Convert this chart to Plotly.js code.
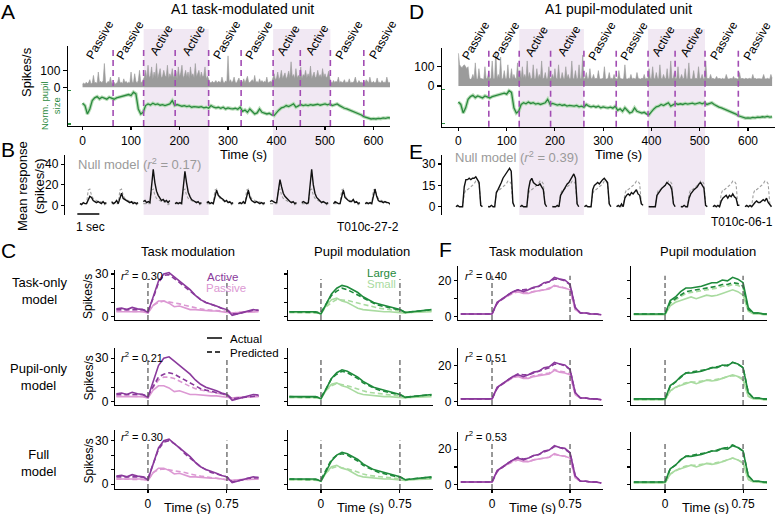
<!DOCTYPE html>
<html><head><meta charset="utf-8">
<script src="https://cdn.plot.ly/plotly-3.0.1.min.js"></script>
<style>html,body{margin:0;padding:0;background:#fff}#chart{width:780px;height:514px}</style>
</head><body><div id="chart"></div>
<script>
// ================= DATA =================
// Panels A / D : session time course (2.5 s spike bins, 5 s pupil bins)
const spikeBin = 2.5;
const spikesA = [
20,25,18,30,22,28,45,20,26,70, 24,30,22,90,28,35,25,40,140,30,
22,35,28,60,25,20,30,18,26,32, 60,25,30,22,50,28,35,24,30,26,
90,30,28,80,35,26,40,100,30,28, 45,60,100,50,130,55,70,120,48,90,
60,140,50,75,110,55,65,100,70,60, 130,50,80,60,110,55,70,95,50,120,
60,85,130,55,70,100,60,90,50,120, 65,80,55,140,60,75,100,55,90,60,
70,120,50,65,40,30,25,35,28,30, 40,25,35,30,28,60,32,25,38,30,
185,30,45,28,35,60,30,25,40,55, 28,35,30,50,25,40,65,30,28,35,
45,30,70,28,35,25,50,30,40,28, 35,30,60,25,28,35,30,50,80,45,
55,90,45,60,100,50,70,85,48,65, 95,55,150,60,75,50,110,55,70,60,
120,50,75,65,100,55,80,60,125,50, 70,90,55,65,100,60,75,55,110,60,
80,55,65,95,50,30,25,40,28,35, 30,60,25,35,28,30,45,25,32,28,
50,25,30,28,35,60,30,25,40,28, 30,25,35,28,45,30,25,60,30,28,
35,25,30,55,28,30,25,40,28,30, 28,60,30,25,35,28,40,25,30,28, 30];
const spikesD = [
170,110,100,95,105,110,100,90,100,40, 35,40,60,38,120,40,35,90,40,38,
40,35,100,38,40,70,36,40,130,38, 40,180,38,60,40,150,35,40,80,38,
40,110,38,40,90,35,60,40,38,120, 40,80,38,100,40,60,38,130,40,70,
38,40,110,36,40,90,38,60,40,130, 38,40,70,36,40,100,38,40,60,38,
90,40,38,110,40,36,70,40,38,100, 40,60,38,40,130,36,40,80,38,40,
110,38,40,160,36,40,70,38,40,90, 38,40,60,36,40,38,80,40,36,38,
40,100,38,36,40,70,38,40,36,60, 40,38,36,80,40,38,36,40,110,38,
36,40,38,60,36,40,38,36,70,40, 38,36,40,38,60,36,40,38,90,40,
38,100,40,36,70,40,38,110,40,36, 60,40,38,90,36,40,130,38,40,70,
38,40,100,36,40,60,38,40,90,36, 40,120,38,36,40,80,38,40,36,100,
40,38,60,36,40,130,38,40,36,60, 38,40,36,38,50,36,40,38,36,40,
36,38,60,40,36,38,40,36,50,38, 40,36,38,70,36,40,38,36,40,38,
36,40,38,36,60,38,40,36,38,40, 38,36,40,60,38,36,40,38,36,60, 40];
const pupilBin = 5;
const pupil = [
0.62,0.55,0.30,0.45,0.70,0.78,0.82,0.75,0.80,0.78,
0.74,0.80,0.76,0.74,0.78,0.80,0.82,0.84,0.86,0.88,
0.85,0.95,0.90,0.45,0.30,0.35,0.55,0.60,0.57,0.62,
0.58,0.60,0.56,0.58,0.55,0.57,0.60,0.70,0.55,0.58,
0.55,0.53,0.55,0.52,0.54,0.50,0.52,0.50,0.50,0.52,
0.48,0.50,0.47,0.55,0.50,0.48,0.50,0.47,0.50,0.45,
0.48,0.46,0.45,0.47,0.44,0.50,0.38,0.42,0.35,0.45,
0.38,0.30,0.33,0.45,0.35,0.33,0.30,0.32,0.27,0.25,
0.35,0.42,0.48,0.50,0.55,0.52,0.56,0.60,0.50,0.55,
0.58,0.55,0.57,0.55,0.58,0.56,0.57,0.59,0.56,0.58,
0.60,0.57,0.60,0.55,0.58,0.60,0.55,0.50,0.47,0.45,
0.42,0.40,0.37,0.35,0.30,0.27,0.22,0.20,0.17,0.15,
0.16,0.15,0.17,0.16,0.18,0.17,0.19,0.18,0.20,0.18,0.19];
const blockBounds = [0,63,126,191,260,327,393,449,511,580,650];
const blockLabels = ['Passive','Passive','Active','Active','Passive','Passive','Active','Active','Passive','Passive'];
const timeTicks = [0,100,200,300,400,500,600];

// Panels B / E : mean response per block
const tMini = [-0.3,-0.225,-0.15,-0.075,0,0.075,0.15,0.225,0.3,0.375,0.45,0.525,0.6,0.675,0.75,0.825,0.9];
const nullB = [2,2,2,2,2,15,16,10,7,6,5,4,4,3.5,3,1,2];
const respB1 = [2,1,3,2,2,5,9,8,5,4,3,4,3,2,4,2,3];
const respB2 = [4,2,3,5,2,8,12,7,6,5,4,3,4,2,3,2,3];
const respB3 = [4,5,3,4,3,22,35,22,14,10,7,5,6,4,5,3,5];
const respB4 = [2,3,2,3,2,20,33,22,13,9,6,5,4,3,4,2,3];
const respB5 = [3,4,2,3,2,10,15,10,8,7,6,4,5,3,4,2,3];
const respB6 = [2,3,2,4,2,10,15,8,5,4,3,4,3,2,3,2,3];
const respB7 = [4,5,4,3,3,16,25,18,12,9,7,5,4,3,4,2,3];
const respB8 = [3,4,3,2,3,22,35,20,12,8,6,4,3,4,3,2,3];
const respB9 = [2,4,3,2,2,10,15,8,6,5,4,4,6,3,4,2,3];
const respB10 = [2,3,2,3,2,10,16,9,5,4,4,3,4,3,3,2,3];
const nullE = [0.5,0,0.5,0,0.5,9,12,12,13,14,15,16,18,18,16,2,0.5];
const respE1 = [0,1,0,0,0,14,19,19,20,19,20,20,21,19,17,1,0];
const respE2 = [0,0,1,0,0,10,12,14,17,20,22,24,26,27,25,3,0];
const respE3 = [0,1,0,0,0,12,18,20,17,16,15,15,16,14,12,2,0];
const respE4 = [0,0,0,1,0,8,10,13,14,16,17,19,22,23,20,2,0];
const respE5 = [0,1,0,0,0,12,15,16,17,16,18,19,20,18,17,2,0];
const respE6 = [0,1,0,2,0,6,8,9,8,10,9,11,12,9,8,2,1];
const respE7 = [0,0,0,0,0,8,10,12,13,14,15,17,16,15,12,2,0];
const respE8 = [0,0,1,0,0,6,9,11,12,13,14,16,17,15,13,1,0];
const respE9 = [0,1,0,1,0,4,6,7,8,6,8,7,9,7,6,1,1];
const respE10 = [0,1,0,1,0,2,3,4,3,3,4,5,4,6,3,1,0];

// Panels C / F : PSTHs (actual and model-predicted)
const tC = [-0.3,-0.25,-0.2,-0.15,-0.1,-0.05,0,0.05,0.1,0.15,0.2,0.25,0.3,0.35,0.4,0.45,0.5,0.55,0.6,0.65,0.7,0.75,0.8,0.85,0.9,0.95,1.0,1.05];
const cActive  = [5.5,6,5,6.5,5.5,5,3,14,25,30,31,28,25,22,19,15,12,10,9,7.5,6,5,1,2,3,4,5,4.5];
const cPassive = [3.5,3.5,3.5,3.5,4,3.5,2.5,8,11,11,9.5,7,7.5,6,5,5,4.5,4,4,4,3.5,3.5,2.5,3,3,3.5,3.5,3.5];
const cActiveTaskOnly  = [5,5,5,5,5,5,4,13,24,29,29.5,27,24,21,18,15,12,10,8.5,7,6,5,2,2,3,4,4.5,4.5];
const cPassiveTaskOnly = [4,4,4,4,4,4,3.5,8,10,11,10.5,10,9,8,7,6,5.5,5,4.5,4.5,4,4,2.5,3,3.5,3.5,4,4];
const cActivePupilOnly  = [5,5,5,5,5,5,4,11,17,19,20,19,17,15,13,11,9,8,7,6,5.5,5,2,2.5,3,3.5,4,4];
const cPassivePupilOnly = [4,4,4,4,4,4,3.5,10,15,17,17,16,14,12,10.5,9,8,7,6.5,6,5,4.5,2,2.5,3,3.5,4,4];
const cActiveFull  = [5,5,5,5,5,5,4,14,24,29,30,28,25,21,18,15,12,10,8,7,6,5,1.5,2,3,4,4.5,4.5];
const cPassiveFull = [3.5,3.5,3.5,3.5,3.5,3.5,3,8,10,10.5,10,9.5,9,8,7,6,5.5,5,4.5,4,4,3.5,2.5,3,3,3.5,3.5,3.5];
const cLarge = [3.5,3.5,4,3.5,4,3.5,2,9,16,20,22,21,19,17,14,12,10,9,8,7,6,5,3,3.5,4,4.5,5,5];
const cSmall = [3,3,3,3,3,3,2,8,12,13,11,10,8,6,5,4.5,4,4,3.5,3.5,3,3,2.5,3,3,3.5,3.5,3.5];
const cLargeTaskOnly  = [3.5,3.5,3.5,3.5,3.5,3.5,3,9,15,18,20,19,17,15,13,11,9.5,8,7,6,5.5,5,3,3.5,4,4.5,4.5,4.5];
const cSmallTaskOnly  = [3,3,3,3,3,3,2.5,7,10,12,12,11.5,10.5,9.5,8.5,7.5,7,6,5.5,5,4.5,4,3,3,3.5,3.5,4,4];
const cLargePupilOnly = [3.5,3.5,3.5,3.5,3.5,3.5,3,9,16,19,21,20,18,16,13,11,9.5,8,7,6,5.5,5,3,3.5,4,4.5,4.5,4.5];
const cSmallPupilOnly = [3,3,3,3,3,3,2.5,8,11,12.5,12,11,10,8.5,7.5,6.5,6,5.5,5,4.5,4,4,3,3,3.5,3.5,4,4];
const cLargeFull = [3.5,3.5,3.5,3.5,3.5,3.5,3,10,17,20,21,20,18,16,13,11,9.5,8,7,6,5.5,5,3,3.5,4,4.5,4.5,4.5];
const cSmallFull = [3,3,3,3,3,3,2.5,8,11,12,11.5,10.5,9.5,8,7,6,5.5,5,4.5,4.5,4,4,3,3,3.5,3.5,4,4];
const fActive  = [1.5,1.5,1.5,1.5,1.5,1.5,1.5,8,10,12,14,15,14,15,16.5,17,19,19.5,22,21,20.5,18,5,2,2,1.5,1.5,1];
const fPassive = [1.5,1.5,1.5,1.5,1.5,1.5,1.5,8,10,11.5,13.5,14,13,13,14,14.5,15,15.5,17.5,16.5,16,15,4,2,2,1.5,1.5,1];
const fActiveTaskOnly  = [1.5,1.5,1.5,1.5,1.5,1.5,1.5,7.5,10,12,14,15,15,15.5,16,17,18.5,19.5,21,21,20,18,5,2,2,1.5,1.5,1];
const fPassiveTaskOnly = [1.5,1.5,1.5,1.5,1.5,1.5,1.5,7.5,10,11.5,13,14,13.5,13.5,14,14.5,15,16,17,17,16,15,4,2,2,1.5,1.5,1];
const fActivePupilOnly  = [1.5,1.5,1.5,1.5,1.5,1.5,1.5,7.5,10,12,14,15.5,15,15,16,17,18,19,21,21,20,18,5,2,2,1.5,1.5,1];
const fPassivePupilOnly = [1.5,1.5,1.5,1.5,1.5,1.5,1.5,7.5,10,11.5,13.5,14.5,13.5,13.5,14.5,15,15.5,16,18,17,16.5,15.5,4,2,2,1.5,1.5,1];
const fActiveFull  = [1.5,1.5,1.5,1.5,1.5,1.5,1.5,7.5,10,12,14,15.5,14.5,15,16.5,17,18.5,19.5,21.5,21,20,18,5,2,2,1.5,1.5,1];
const fPassiveFull = [1.5,1.5,1.5,1.5,1.5,1.5,1.5,7.5,10,11.5,13,14,13.5,13,14,14.5,15,15.5,17,16.5,16,15,4,2,2,1.5,1.5,1];
const fLarge = [1.5,1.5,1.5,1.5,1.5,1.5,1.5,9,11,14,16,16,16.5,17,18,19,19,20.5,20,22,21,19,5,2,2,1.5,1.5,1];
const fSmall = [1,1,1,1,1,1,1,6,8,9,10,11,10,11,12,11.5,12,13,14,15,14,12,3,1.5,1.5,1,1,1];
const fLargeTaskOnly  = [1.5,1.5,1.5,1.5,1.5,1.5,1.5,8,10,12,14,14.5,15,15.5,16,16.5,17,18,18,19,18.5,17,4,2,2,1.5,1.5,1];
const fSmallTaskOnly  = [1.5,1.5,1.5,1.5,1.5,1.5,1.5,7.5,9.5,11.5,13,13.5,14,14.5,15,15.5,16,17,17,18,17.5,16,4,2,2,1.5,1.5,1];
const fLargePupilOnly = [1.5,1.5,1.5,1.5,1.5,1.5,1.5,8.5,11,14,16,16.5,17,17.5,18,19,19.5,20,20.5,22,21,19,5,2,2,1.5,1.5,1];
const fSmallPupilOnly = [1,1,1,1,1,1,1,6,8,9.5,10.5,11,11,11.5,12,12,12.5,13,14,14.5,14,13,3,1.5,1.5,1,1,1];
const fLargeFull = [1.5,1.5,1.5,1.5,1.5,1.5,1.5,9,11,14,16,16.5,17,17.5,18,19,19.5,20.5,21,22.5,21,19,5,2,2,1.5,1.5,1];
const fSmallFull = [1,1,1,1,1,1,1,6,8,9.5,10.5,11,11,11.5,12,12,12.5,13,14,15,14,12.5,3,1.5,1.5,1,1,1];
const r2C = ['0.30','0.21','0.30'];
const r2F = ['0.40','0.51','0.53'];
const rowNames = ['Task-only<br>model','Pupil-only<br>model','Full<br>model'];

// ================= DRAWING =================
const W = 780, H = 514;
const fx = p => p / W;
const fy = p => 1 - p / H;
const ydom = (top, bot) => [fy(bot), fy(top)];
const FONT = 'Liberation Sans, Arial, sans-serif';
const green = '#2b8a3e', purpleDash = '#a24db3', shade = '#f1e8f3';
const cPurple = '#8a3a9c', cPink = '#dc98d3', cGreen = '#1f8a3c', cLight = '#a9dba0';

const axBase = {showline:true, linecolor:'#000', linewidth:1.2, ticks:'outside', ticklen:4,
  tickwidth:1.1, tickcolor:'#000', showgrid:false, zeroline:false, fixedrange:true,
  tickfont:{family:FONT, size:12, color:'#000'}};

const traces = [], shapes = [], annotations = [];
const layout = {width:W, height:H, margin:{l:0,r:0,t:0,b:0}, paper_bgcolor:'#fff',
  plot_bgcolor:'rgba(0,0,0,0)', showlegend:false, font:{family:FONT, size:12, color:'#000'}};

function ann(text, x, y, o) {
  annotations.push(Object.assign({text, x:fx(x), y:fy(y), xref:'paper', yref:'paper', showarrow:false,
    xanchor:'center', yanchor:'middle', font:{family:FONT, size:12, color:'#000'}}, o || {}));
}

// ---- A and D ----
function activeRuns() {
  const runs = [];
  blockLabels.forEach((l, i) => {
    if (l !== 'Active') return;
    if (runs.length && runs[runs.length - 1][1] === blockBounds[i]) runs[runs.length - 1][1] = blockBounds[i + 1];
    else runs.push([blockBounds[i], blockBounds[i + 1]]);
  });
  return runs;
}
function sessionPanel(xa, ySp, yPu, spikes, xDom, xRange, spDom, spRange, puDom, puRange, lblY) {
  const n = xa === 'x' ? '' : xa.slice(1);
  const ns = ySp.slice(1), np = yPu.slice(1);
  layout['xaxis' + n] = Object.assign({}, axBase, {domain:[fx(xDom[0]), fx(xDom[1])], range:xRange, anchor:yPu, tickvals:timeTicks, ticklen:3});
  layout['yaxis' + ns] = Object.assign({}, axBase, {domain:ydom(spDom[0], spDom[1]), range:spRange, anchor:xa, tickvals:[0,100]});
  layout['yaxis' + np] = Object.assign({}, axBase, {domain:ydom(puDom[0], puDom[1]), range:puRange, anchor:xa,
    tickvals:[0,1], ticktext:['0','max'], ticks:'inside', ticklen:3, tickcolor:green,
    ticklabelposition:'inside', tickfont:{family:FONT, size:9, color:green}});
  activeRuns().forEach(r => shapes.push({type:'rect', xref:xa, yref:'paper', x0:r[0], x1:r[1],
    y0:fy(215), y1:fy(29), fillcolor:shade, line:{width:0}, layer:'below'}));
  blockBounds.slice(1, -1).forEach(b => shapes.push({type:'line', xref:xa, yref:'paper', x0:b, x1:b,
    y0:fy(puDom[1]), y1:fy(spDom[0]), line:{color:purpleDash, width:1.6, dash:'6px,4px'}}));
  blockLabels.forEach((l, i) => annotations.push({text:l, xref:xa, yref:'paper',
    x:(blockBounds[i] + blockBounds[i + 1]) / 2 + 4, y:fy(lblY), textangle:-60, showarrow:false,
    xanchor:'center', yanchor:'middle', font:{family:FONT, size:12, color:'#000'}}));
  traces.push({x:spikes.map((v, i) => i * spikeBin), y:spikes, xaxis:xa, yaxis:ySp, type:'scatter',
    mode:'lines', fill:'tozeroy', fillcolor:'#9b9b9b', line:{color:'#9b9b9b', width:0.6}, hoverinfo:'skip'});
  traces.push({x:pupil.map((v, i) => i * pupilBin), y:pupil, xaxis:xa, yaxis:yPu, type:'scatter',
    mode:'lines', line:{color:'#b8dcb8', width:3.5}, hoverinfo:'skip'});
  traces.push({x:pupil.map((v, i) => i * pupilBin), y:pupil, xaxis:xa, yaxis:yPu, type:'scatter',
    mode:'lines', line:{color:green, width:1.3}, hoverinfo:'skip'});
}
sessionPanel('x', 'y', 'y2', spikesA, [68, 390], [-30, 634], [46, 88], [-4, 243], [88, 126], [-0.06, 1.075], 40);
sessionPanel('x3', 'y3', 'y4', spikesD, [442, 775], [-34, 656], [48, 87], [-5, 197], [87, 126.7], [-0.1, 1.06], 41);

// ---- B and E ----
function blockPanel(xa, ya, xDom, xRange, yRange, ticks, nullR, resps, spacing) {
  const nx = xa.slice(1), ny = ya.slice(1);
  layout['xaxis' + nx] = {domain:[fx(xDom[0]), fx(xDom[1])], range:xRange, visible:false, anchor:ya, fixedrange:true};
  layout['yaxis' + ny] = Object.assign({}, axBase, {domain:ydom(155, 215), range:yRange, anchor:xa, tickvals:ticks, ticklen:3});
  resps.forEach((r, i) => {
    const xs = tMini.map(t => t + i * spacing);
    traces.push({x:xs, y:nullR, xaxis:xa, yaxis:ya, type:'scatter', mode:'lines',
      line:{color:'#a0a0a0', width:1.1, dash:'3px,2px'}, hoverinfo:'skip'});
    traces.push({x:xs, y:r, xaxis:xa, yaxis:ya, type:'scatter', mode:'lines',
      line:{color:'#111', width:1.4}, hoverinfo:'skip'});
  });
}
blockPanel('x5', 'y5', [65, 390], [-0.98, 13.79], [-8.9, 48.7], [0, 20, 40], nullB,
  [respB1,respB2,respB3,respB4,respB5,respB6,respB7,respB8,respB9,respB10], 1.44);
blockPanel('x6', 'y6', [442, 775], [-0.936, 14.2], [-5.8, 36.3], [0, 15, 30], nullE,
  [respE1,respE2,respE3,respE4,respE5,respE6,respE7,respE8,respE9,respE10], 1.46);
shapes.push({type:'line', xref:'x5', yref:'paper', x0:-0.42, x1:0.58, y0:fy(214), y1:fy(214), line:{color:'#000', width:1.5}});

// ---- C and F ----
const rowsC = [{dom:[270, 320], range:[-2.3, 32.8]}, {dom:[348, 405], range:[-2.3, 37.1]}, {dom:[430, 489], range:[-3.4, 37.4]}];
const rowsF = [{dom:[266, 320], range:[-1.9, 28.35]}, {dom:[348, 405], range:[-1.9, 30.0]}, {dom:[432, 489], range:[-2.4, 29.7]}];
const cols = [
  {dom:[115, 260], xr:[-0.313, 1.064], rows:rowsC, act:[cActive, cPassive],
   pred:[[cActiveTaskOnly, cPassiveTaskOnly], [cActivePupilOnly, cPassivePupilOnly], [cActiveFull, cPassiveFull]],
   col:[cPurple, cPink], tv:[0,30], minor:[10,20], labels:true},
  {dom:[288, 433], xr:[-0.313, 1.064], rows:rowsC, act:[cLarge, cSmall],
   pred:[[cLargeTaskOnly, cSmallTaskOnly], [cLargePupilOnly, cSmallPupilOnly], [cLargeFull, cSmallFull]],
   col:[cGreen, cLight], tv:[0,10,20,30], minor:null, labels:false},
  {dom:[458, 603], xr:[-0.327, 1.067], rows:rowsF, act:[fActive, fPassive],
   pred:[[fActiveTaskOnly, fPassiveTaskOnly], [fActivePupilOnly, fPassivePupilOnly], [fActiveFull, fPassiveFull]],
   col:[cPurple, cPink], tv:[0,20], minor:[10], labels:true},
  {dom:[631, 767], xr:[-0.327, 0.98], rows:rowsF, act:[fLarge, fSmall],
   pred:[[fLargeTaskOnly, fSmallTaskOnly], [fLargePupilOnly, fSmallPupilOnly], [fLargeFull, fSmallFull]],
   col:[cGreen, cLight], tv:[0,10,20], minor:null, labels:false}
];
let k = 7;
cols.forEach(c => {
  c.rows.forEach((r, ri) => {
    const xa = 'x' + k, ya = 'y' + k, bottom = ri === 2;
    layout['xaxis' + k] = Object.assign({}, axBase, {domain:[fx(c.dom[0]), fx(c.dom[1])], range:c.xr, anchor:ya,
      tickvals:[0, 0.75], ticktext:['0', '0.75'], showticklabels:bottom, ticks:bottom ? 'outside' : '', ticklen:3});
    const yax = Object.assign({}, axBase, {domain:ydom(r.dom[0], r.dom[1]), range:r.range, anchor:xa,
      tickvals:c.tv, showticklabels:c.labels, ticklen:3});
    if (c.minor) yax.minor = {tickmode:'array', tickvals:c.minor, ticks:'outside', ticklen:3, tickcolor:'#000', tickwidth:1.1};
    layout['yaxis' + k] = yax;
    [0, 0.75].forEach(t => shapes.push({type:'line', xref:xa, yref:ya + ' domain', x0:t, x1:t, y0:0, y1:0.82,
      line:{color:'#555', width:1.2, dash:'5px,3px'}}));
    [1, 0].forEach(j => {
      traces.push({x:tC, y:c.act[j], xaxis:xa, yaxis:ya, type:'scatter', mode:'lines',
        line:{color:c.col[j], width:1.6}, hoverinfo:'skip'});
      traces.push({x:tC, y:c.pred[ri][j], xaxis:xa, yaxis:ya, type:'scatter', mode:'lines',
        line:{color:c.col[j], width:1.6, dash:'5px,3px'}, hoverinfo:'skip'});
    });
    k++;
  });
});

// ---- text ----
ann('A', 8, 11, {font:{family:FONT, size:21}});
ann('B', 8, 149, {font:{family:FONT, size:21}});
ann('C', 8, 250, {font:{family:FONT, size:21}});
ann('D', 416, 11, {font:{family:FONT, size:21}});
ann('E', 416, 151, {font:{family:FONT, size:21}});
ann('F', 445, 249, {font:{family:FONT, size:21}});
ann('A1 task-modulated unit', 242, 9, {font:{family:FONT, size:14}});
ann('A1 pupil-modulated unit', 618, 9, {font:{family:FONT, size:14}});
ann('Spikes/s', 27, 72, {textangle:-90, font:{family:FONT, size:13}});
ann('Norm. pupil<br>size', 51, 106, {textangle:-90, font:{family:FONT, size:9.5, color:green}});
ann('Time (s)', 243, 154, {font:{family:FONT, size:13}});
ann('Time (s)', 618, 154, {font:{family:FONT, size:13}});
ann('Mean response<br>(spikes/s)', 31, 186, {textangle:-90, font:{family:FONT, size:13}});
ann('Null model (<i>r</i><sup>2</sup> = 0.17)', 76, 164, {xanchor:'left', font:{family:FONT, size:13, color:'#9a9a9a'}});
ann('Null model (<i>r</i><sup>2</sup> = 0.39)', 453, 157, {xanchor:'left', font:{family:FONT, size:13, color:'#9a9a9a'}});
ann('1 sec', 90, 227, {font:{family:FONT, size:12}});
ann('T010c-27-2', 335, 227, {xanchor:'left', font:{family:FONT, size:12}});
ann('T010c-06-1', 742, 222, {font:{family:FONT, size:12}});
ann('Task modulation', 188, 251, {font:{family:FONT, size:13}});
ann('Pupil modulation', 362, 251, {font:{family:FONT, size:13}});
ann('Task modulation', 536, 251, {font:{family:FONT, size:13}});
ann('Pupil modulation', 708, 251, {font:{family:FONT, size:13}});
const rowMid = [291, 377, 463];
rowNames.forEach((t, i) => ann(t, 39, rowMid[i], {font:{family:FONT, size:13}}));
rowsC.forEach((r, i) => ann('Spikes/s', 88, (r.dom[0] + r.dom[1]) / 2 + 2, {textangle:-90, font:{family:FONT, size:12}}));
const r2Y = [275, 357, 436];
r2C.forEach((v, i) => ann('<i>r</i><sup>2</sup> = ' + v, 119, r2Y[i], {xanchor:'left', font:{family:FONT, size:11}}));
r2F.forEach((v, i) => ann('<i>r</i><sup>2</sup> = ' + v, 463, r2Y[i], {xanchor:'left', font:{family:FONT, size:11}}));
ann('Active', 222, 277, {font:{family:FONT, size:11.5, color:cPurple}});
ann('Passive', 226, 288, {font:{family:FONT, size:11.5, color:cPink}});
ann('Large', 381, 273, {font:{family:FONT, size:11.5, color:cGreen}});
ann('Small', 381, 284, {font:{family:FONT, size:11.5, color:cLight}});
shapes.push({type:'line', xref:'paper', yref:'paper', x0:fx(207), x1:fx(222), y0:fy(338), y1:fy(338), line:{color:'#000', width:1.5}});
shapes.push({type:'line', xref:'paper', yref:'paper', x0:fx(207), x1:fx(222), y0:fy(352), y1:fy(352), line:{color:'#000', width:1.5, dash:'5px,3px'}});
ann('Actual', 228, 339, {xanchor:'left', font:{family:FONT, size:11.5}});
ann('Predicted', 228, 353, {xanchor:'left', font:{family:FONT, size:11.5}});
const timeX = [187, 360, 532, 705];
timeX.forEach(x => ann('Time (s)', x, 507, {font:{family:FONT, size:13}}));

layout.shapes = shapes;
layout.annotations = annotations;
Plotly.newPlot('chart', traces, layout, {staticPlot:true, displayModeBar:false});
</script>
</body></html>
